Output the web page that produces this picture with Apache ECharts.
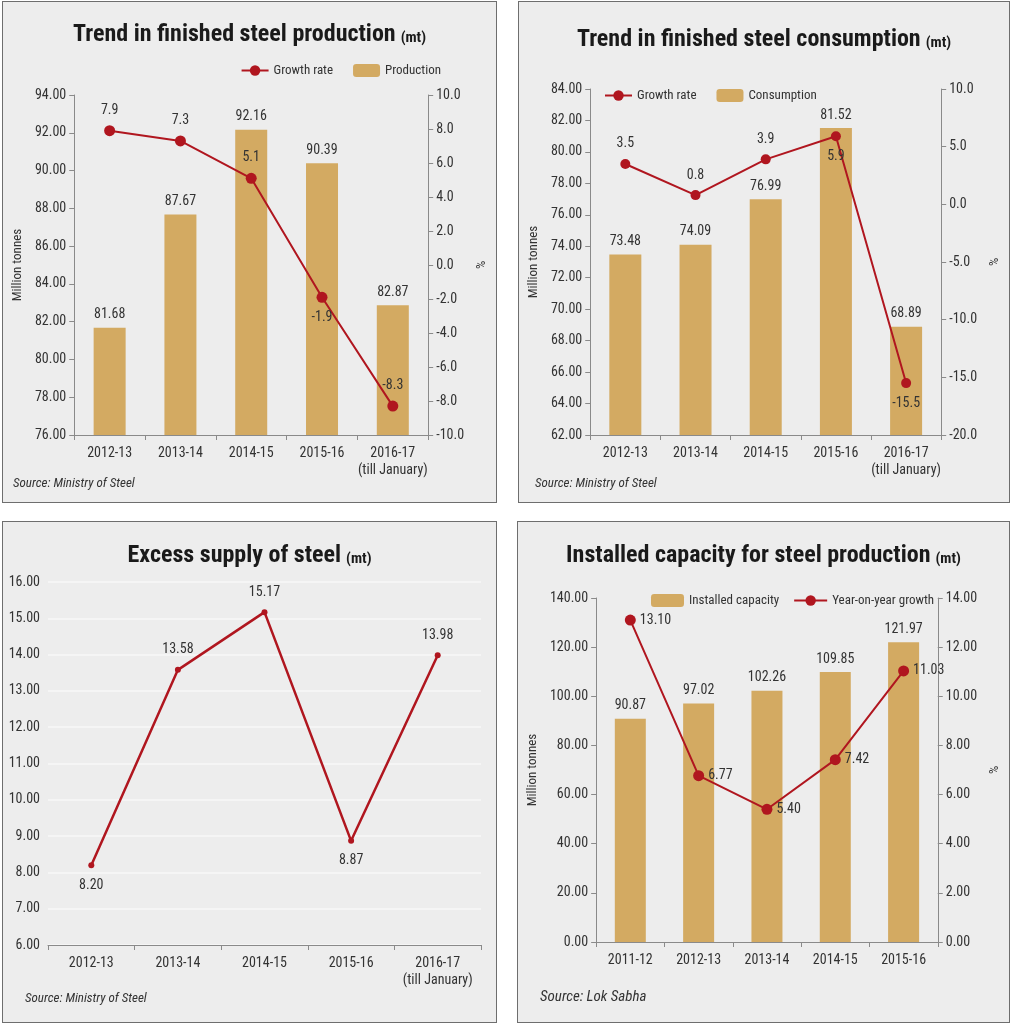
<!DOCTYPE html>
<html>
<head>
<meta charset="utf-8">
<script src="https://cdn.jsdelivr.net/npm/echarts@6/dist/echarts.min.js"></script>
<style>
  body { margin: 0; background: #fff; }
  .panel { position: absolute; box-sizing: border-box; border: 1px solid #6e6e6e; background: #ededed; }
</style>
</head>
<body>
<div id="main" class="panel" style="left:2px;top:1px;width:495px;height:502px"></div>
<div id="main1" class="panel" style="left:518px;top:1px;width:492px;height:502px"></div>
<div id="main2" class="panel" style="left:2px;top:521px;width:495px;height:502px"></div>
<div id="main3" class="panel" style="left:517px;top:521px;width:493px;height:502px"></div>
<script>
// data
var years = ['2012-13', '2013-14', '2014-15', '2015-16', '2016-17\n(till January)'];
var production = [81.68, 87.67, 92.16, 90.39, 82.87];
var productionGrowth = [7.9, 7.3, 5.1, -1.9, -8.3];
var consumption = [73.48, 74.09, 76.99, 81.52, 68.89];
var consumptionGrowth = [3.5, 0.8, 3.9, 5.9, -15.5];
var excessSupply = [8.20, 13.58, 15.17, 8.87, 13.98];
var capacityYears = ['2011-12', '2012-13', '2013-14', '2014-15', '2015-16'];
var capacity = [90.87, 97.02, 102.26, 109.85, 121.97];
var capacityGrowth = [13.10, 6.77, 5.40, 7.42, 11.03];

// where the growth labels sit
var productionGrowthPos = ['top', 'top', 'top', 'bottom', 'top'];
var consumptionGrowthPos = ['top', 'top', 'top', 'bottom', 'bottom'];
var excessPos = ['bottom', 'top', 'top', 'bottom', 'top'];

var font = "'Liberation Sans Narrow', 'Arial Narrow', 'Roboto Condensed', 'DejaVu Sans Condensed', sans-serif";
var titleFont = "Impact, 'Roboto Condensed', 'Liberation Sans Narrow', 'DejaVu Sans Condensed', sans-serif";
var red = '#b0161f';
var gold = '#d3aa62';
var axisGrey = '#8a8a8a';

function withPos(vals, pos) {
    return vals.map(function (v, i) {
        return { value: v, label: { position: pos[i] } };
    });
}

function title(main, top) {
    return {
        text: '{a|' + main + '} {b|(mt)}',
        left: 'center',
        top: top || 17,
        textStyle: {
            rich: {
                a: { fontFamily: titleFont, fontWeight: 'bold', fontSize: 24, color: '#1a1a1a' },
                b: { fontFamily: titleFont, fontWeight: 'bold', fontSize: 15, color: '#1a1a1a', padding: [6, 0, 0, 0] }
            }
        }
    };
}

function source(text, x, y, size) {
    return [{
        type: 'text', left: x, top: y,
        style: { text: text, font: 'italic ' + (size || 13) + 'px ' + font, fill: '#333' }
    }];
}

var catAxis = function (data) {
    return {
        type: 'category',
        data: data,
        axisLine: { onZero: false, lineStyle: { color: axisGrey } },
        axisTick: { show: true, lineStyle: { color: axisGrey } },
        axisLabel: { interval: 0, color: '#333', fontFamily: font, fontSize: 14, margin: 10, lineHeight: 17 }
    };
};

var valAxis = function (min, max, interval, digits, name, nameGap) {
    return {
        type: 'value',
        min: min, max: max, interval: interval,
        name: name,
        nameLocation: 'middle',
        nameRotate: 90,
        nameGap: nameGap,
        nameTextStyle: { fontFamily: font, fontSize: 13, color: '#333' },
        axisLine: { show: true, lineStyle: { color: axisGrey } },
        axisTick: { show: true, lineStyle: { color: axisGrey } },
        splitLine: { show: false },
        axisLabel: {
            color: '#333', fontFamily: font, fontSize: 14,
            formatter: function (v) { return v.toFixed(digits); }
        }
    };
};

var legendText = { fontFamily: font, fontSize: 13, color: '#333' };
var lineLabel = { show: true, color: '#333', fontFamily: font, fontSize: 14, distance: 8 };
var barLabel = { show: true, position: 'top', color: '#333', fontFamily: font, fontSize: 14, distance: 6 };

var myChart = echarts.init(document.getElementById('main'));
var myChart1 = echarts.init(document.getElementById('main1'));
var myChart2 = echarts.init(document.getElementById('main2'));
var myChart3 = echarts.init(document.getElementById('main3'));

myChart.setOption({
    title: title('Trend in finished steel production', 16),
    legend: {
        top: 57, right: 50, itemWidth: 27, itemHeight: 13, itemGap: 20,
        textStyle: legendText,
        data: ['Growth rate', 'Production']
    },
    grid: { left: 53, top: 93, width: 390, height: 340 },
    xAxis: catAxis(years),
    yAxis: [
        valAxis(76, 94, 2, 2, 'Million tonnes', 44),
        valAxis(-10, 10, 2, 1, '%', 38)
    ],
    graphic: source('Source: Ministry of Steel', 10, 475),
    series: [{
        name: 'Production', type: 'bar', barWidth: 32,
        itemStyle: { color: gold }, label: barLabel,
        data: production
    }, {
        name: 'Growth rate', type: 'line', yAxisIndex: 1,
        symbol: 'circle', symbolSize: 11,
        lineStyle: { color: red, width: 2 }, itemStyle: { color: red },
        label: Object.assign({}, lineLabel, { formatter: function (p) { return p.value.toFixed(1); } }),
        data: withPos(productionGrowth, productionGrowthPos)
    }]
});

myChart1.setOption({
    title: title('Trend in finished steel consumption', 21),
    legend: {
        top: 82, left: 80, itemWidth: 27, itemHeight: 13, itemGap: 20,
        textStyle: legendText,
        data: ['Growth rate', 'Consumption']
    },
    grid: { left: 52, top: 87, width: 390, height: 346 },
    xAxis: catAxis(years),
    yAxis: [
        valAxis(62, 84, 2, 2, 'Million tonnes', 44),
        valAxis(-20, 10, 5, 1, '%', 42)
    ],
    graphic: source('Source: Ministry of Steel', 16, 475),
    series: [{
        name: 'Consumption', type: 'bar', barWidth: 32,
        itemStyle: { color: gold }, label: barLabel,
        data: consumption
    }, {
        name: 'Growth rate', type: 'line', yAxisIndex: 1,
        symbol: 'circle', symbolSize: 10,
        lineStyle: { color: red, width: 2 }, itemStyle: { color: red },
        label: Object.assign({}, lineLabel, { formatter: function (p) { return p.value.toFixed(1); } }),
        data: withPos(consumptionGrowth, consumptionGrowthPos)
    }]
});

myChart2.setOption({
    title: title('Excess supply of steel'),
    grid: { left: 45, top: 60, width: 433, height: 363 },
    xAxis: catAxis(years),
    yAxis: {
        type: 'value', min: 6, max: 16, interval: 1,
        axisLine: { show: false },
        axisTick: { show: false },
        splitLine: { show: true, lineStyle: { color: '#f7f7f7', width: 1.5 } },
        axisLabel: {
            color: '#333', fontFamily: font, fontSize: 14,
            formatter: function (v) { return v.toFixed(2); }
        }
    },
    graphic: source('Source: Ministry of Steel', 22, 470),
    series: [{
        name: 'Excess supply', type: 'line',
        symbol: 'circle', symbolSize: 6,
        lineStyle: { color: red, width: 2.5 }, itemStyle: { color: red },
        label: Object.assign({}, lineLabel, { distance: 10, formatter: function (p) { return p.value.toFixed(2); } }),
        data: withPos(excessSupply, excessPos)
    }]
});

myChart3.setOption({
    title: title('Installed capacity for steel production'),
    legend: {
        top: 67, left: 128, itemWidth: 33, itemHeight: 13, itemGap: 14,
        textStyle: legendText,
        data: ['Installed capacity', 'Year-on-year growth']
    },
    grid: { left: 51, top: 76, width: 389, height: 344 },
    xAxis: catAxis(capacityYears),
    yAxis: [
        valAxis(0, 140, 20, 2, 'Million tonnes', 50),
        valAxis(0, 14, 2, 2, '%', 50)
    ],
    graphic: source('Source: Lok Sabha', 22, 468, 15),
    series: [{
        name: 'Installed capacity', type: 'bar', barWidth: 31,
        itemStyle: { color: gold }, label: barLabel,
        data: capacity
    }, {
        name: 'Year-on-year growth', type: 'line', yAxisIndex: 1,
        symbol: 'circle', symbolSize: 11,
        lineStyle: { color: red, width: 2 }, itemStyle: { color: red },
        label: Object.assign({}, lineLabel, { position: 'right', distance: 4, formatter: function (p) { return p.value.toFixed(2); } }),
        data: capacityGrowth
    }]
});
</script>
</body>
</html>
